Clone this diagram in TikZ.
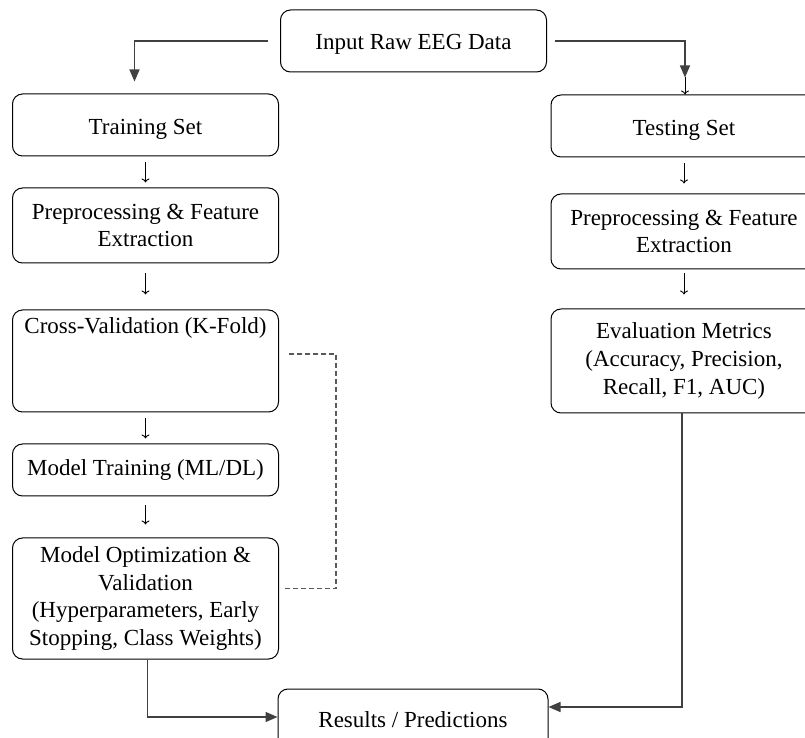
\documentclass[tikz,border=0pt]{standalone}
\usepackage{fontspec}
\setmainfont{Liberation Serif}
\usetikzlibrary{arrows.meta,positioning}

\begin{document}
\begin{tikzpicture}[x=0.5pt,y=-0.5pt,>={Triangle[length=6pt,width=5pt]},
    box/.style={draw,rounded corners=5pt,line width=0.5pt,align=center,
      minimum width=133pt,inner sep=2pt,font=\fontsize{11.5}{13.8}\selectfont},
    conn/.style={->,draw=black!75,line width=0.75pt},
    stepline/.style={-{To[length=2pt,width=4pt]},line width=0.45pt},
    dashline/.style={draw=black!65,line width=0.7pt,dash pattern=on 2.5pt off 1.5pt}]
  \clip (0,0) rectangle (805,738);
  \node[box, minimum height=31pt, text height=10.5pt] (input) at (413.5,41) {Input Raw EEG Data};
  % training branch
  \node[box, minimum height=31pt, text height=11.5pt] (train) at (145.5,125) {Training Set};
  \node[box, minimum height=37.5pt] (pre) [below=15.5pt of train] {Preprocessing \& Feature\\Extraction};
  \node[box, text height=8pt, text depth=35pt, inner ysep=4pt] (cv) [below=23pt of pre] {Cross-Validation (K-Fold)};
  \node[box, minimum height=26pt] (mt) [below=15.5pt of cv] {Model Training (ML/DL)};
  \node[box, minimum height=60.5pt] (mo) [below=20.5pt of mt] {Model Optimization \&\\Validation\\(Hyperparameters, Early\\Stopping, Class Weights)};
  % testing branch
  \node[box, minimum height=31pt, text height=11.5pt] (test) at (684,126) {Testing Set};
  \node[box, minimum height=37.5pt] (tpre) [below=18pt of test] {Preprocessing \& Feature\\Extraction};
  \node[box, minimum height=52pt] (eval) [below=19.5pt of tpre] {Evaluation Metrics\\(Accuracy, Precision,\\Recall, F1, AUC)};
  \node[box, minimum width=135pt, minimum height=31pt] (res) at (413,720) {Results / Predictions};

  \coordinate (testin) at ([xshift=0.5pt,yshift=8.5pt]test.north);
  \draw[conn, shorten <=6pt, shorten >=6pt] (input.west) -| ([xshift=-5.5pt]train.north);
  \draw[conn, shorten <=4pt] (input.east) -| (testin);
  \draw[stepline] (testin) -- ([xshift=0.5pt]test.north);

  \path (train) edge[stepline, shorten <=3pt, shorten >=2.5pt] (pre)
  (pre) edge[stepline, shorten <=5pt, shorten >=7.5pt] (cv)
  (cv) edge[stepline, shorten <=3pt, shorten >=2.5pt] (mt)
  (mt) edge[stepline, shorten <=4.5pt, shorten >=6.5pt] (mo)
  (test) edge[stepline, shorten <=3pt, shorten >=5pt] (tpre)
  (tpre) edge[stepline, shorten <=2pt, shorten >=7pt] (eval);

  \draw[dashline] ([xshift=5pt,yshift=3.5pt]cv.east) -| ([xshift=28.5pt,yshift=5pt]mo.east)
    -- ([xshift=2pt,yshift=5pt]mo.east);
  \draw[conn] ([xshift=1pt]mo.south) |- ([yshift=1.5pt]res.west);
  \draw[conn] ([xshift=-1pt]eval.south) |- ([yshift=6.5pt]res.east);
\end{tikzpicture}
\end{document}
